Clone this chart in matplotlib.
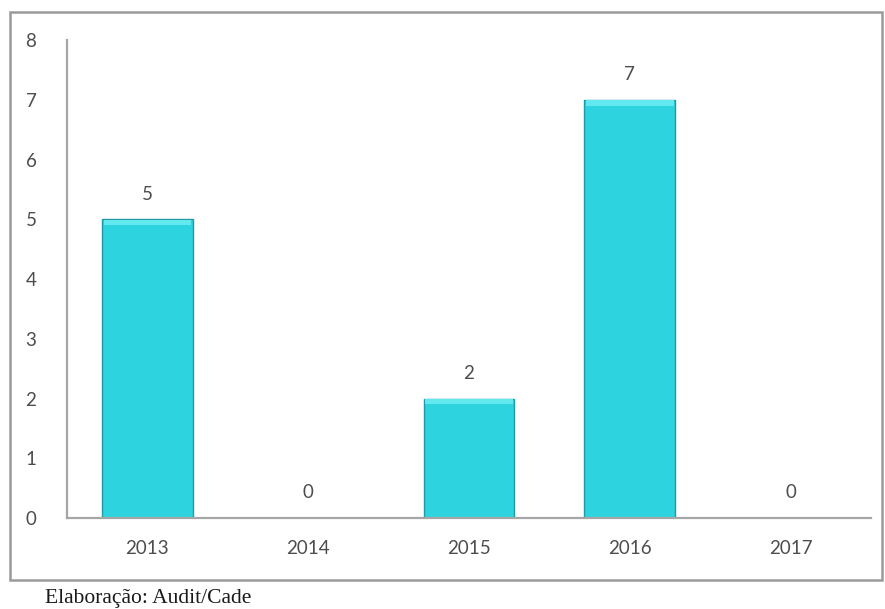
import matplotlib
matplotlib.use("Agg")
import matplotlib.pyplot as plt
from matplotlib.patches import Rectangle

years = ['2013', '2014', '2015', '2016', '2017']
counts = [5, 0, 2, 7, 0]
y_ticks = [0, 1, 2, 3, 4, 5, 6, 7, 8]

bar_color = '#2dd3de'
edge_color = '#1f9aa6'
text_color = '#4d4d4d'
axis_color = '#a6a6a6'

fig = plt.figure(figsize=(8.85, 6.09), dpi=100)
ax = fig.add_axes([0.0757, 0.1494, 0.9085, 0.7849])

x = list(range(len(years)))
ax.bar(x, counts, width=0.565, color=bar_color, edgecolor=edge_color, linewidth=1.0, zorder=2)

# light bevel on top of each bar
for xi, v in zip(x, counts):
    if v > 0:
        ax.bar(xi, 0.09, bottom=v - 0.1, width=0.545, color='#62e9f0', linewidth=0, zorder=3)

for xi, v in zip(x, counts):
    ax.text(xi, v + 0.28, str(v), ha='center', va='bottom', fontsize=13.5,
            color=text_color, family='Lato')

ax.set_xlim(-0.5, len(years) - 0.5)
ax.set_ylim(0, 8)
ax.set_xticks(x)
ax.set_xticklabels(years)
ax.set_yticks(y_ticks)
ax.tick_params(axis='both', length=0, labelsize=13.5, labelcolor=text_color)
ax.tick_params(axis='y', pad=22)
ax.tick_params(axis='x', pad=16)
for lbl in ax.get_xticklabels() + ax.get_yticklabels():
    lbl.set_family('Lato')

for s in ['top', 'right']:
    ax.spines[s].set_visible(False)
for s in ['left', 'bottom']:
    ax.spines[s].set_color(axis_color)
    ax.spines[s].set_linewidth(1.6)

# outer chart border
fig.patches.append(Rectangle((10 / 885, 1 - 580 / 609), 872 / 885, 568 / 609,
                             transform=fig.transFigure, fill=False,
                             edgecolor='#9a9a9a', linewidth=1.8))

fig.text(45 / 885, 1 - 598 / 609, 'Elaboração: Audit/Cade', ha='left', va='center',
         fontsize=15.5, family='Liberation Serif', color='#1a1a1a')

fig.savefig('out.png', dpi=100)
